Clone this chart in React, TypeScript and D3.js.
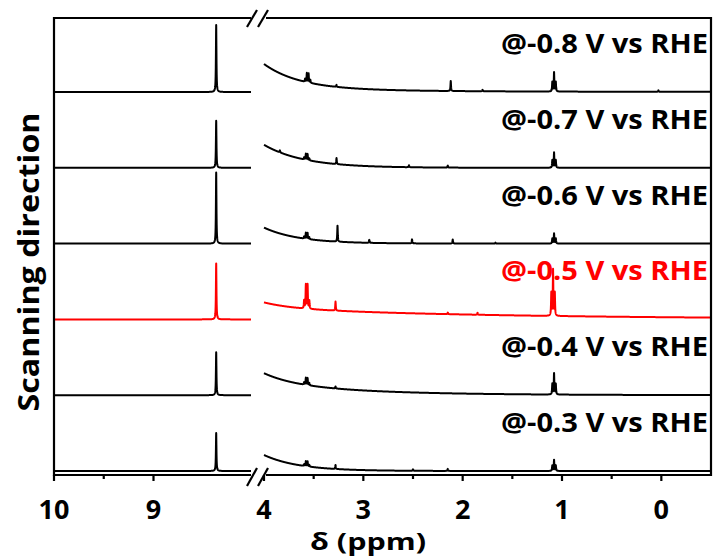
import React from "react";
import * as d3 from "d3";

// Applied potentials, top trace first
const potentials = ["-0.8", "-0.7", "-0.6", "-0.5", "-0.4", "-0.3"];
// Index of the highlighted trace
const highlightIndex = 3;

// Singlet near 8.37 ppm (left window): peak height per trace
const formatePpm = 8.37;
const formateHeights = [67, 47, 71, 56, 43, 38];

// Right window peaks per trace: [ppm, height, multiplicity]
type Peak = [number, number, "s" | "t" | "q"];
const peaks08: Peak[] = [[3.56, 9, "q"], [3.27, 2, "s"], [2.12, 10, "s"], [1.8, 1.5, "s"], [1.08, 19, "t"], [0.03, 1.5, "s"]];
const peaks07: Peak[] = [[3.84, 2, "s"], [3.57, 6, "q"], [3.27, 6, "s"], [2.54, 2, "s"], [2.15, 2, "s"], [1.08, 15, "t"]];
const peaks06: Peak[] = [[3.57, 6, "q"], [3.26, 16, "s"], [2.94, 3, "s"], [2.51, 4, "s"], [2.1, 4, "s"], [1.67, 1, "s"], [1.08, 10, "t"]];
const peaks05: Peak[] = [[3.57, 24, "q"], [3.28, 9, "s"], [2.15, 1.5, "s"], [1.85, 2, "s"], [1.09, 46, "t"]];
const peaks04: Peak[] = [[3.57, 7, "q"], [3.28, 2, "s"], [1.08, 21, "t"]];
const peaks03: Peak[] = [[3.57, 5, "q"], [3.28, 4, "s"], [2.5, 1.5, "s"], [2.15, 2, "s"], [1.08, 11, "t"]];
const rightPeaks = [peaks08, peaks07, peaks06, peaks05, peaks04, peaks03];

// Solvent-suppression baseline roll in the right window: [A1, tau1, A2, tau2]
const baselineRoll = [
  [25, 0.36, 3, 1.5],
  [23, 0.4, 0, 1],
  [16, 0.35, 0, 1],
  [6, 0.3, 11, 2.5],
  [10, 0.3, 12, 1.0],
  [16, 0.35, 0, 1],
];

const majorTicksLeft = [10, 9];
const minorTicksLeft = [9.5];
const majorTicksRight = [4, 3, 2, 1, 0];
const minorTicksRight = [3.5, 2.5, 1.5, 0.5];

const W = 713;
const H = 557;
const plotLeft = 54;
const plotRight = 711;
const plotTop = 18;
const plotBottom = 475;
const leftEnd = 253;
const rightStart = 264;

const xLeft = d3.scaleLinear().domain([10, 8.0]).range([plotLeft, leftEnd]);
const xRight = d3.scaleLinear().domain([4, -0.5]).range([rightStart, plotRight]);
const y = d3.scaleLinear().domain([0, 458]).range([476, 18]);

const HWHM = 0.003;
const J = 0.0175;
const patterns: Record<string, number[]> = {
  s: [1],
  t: [0.5, 1, 0.5],
  q: [0.33, 1, 1, 0.33],
};

function lorentz(x: number, c: number, h: number) {
  const d = (x - c) / HWHM;
  return h / (1 + d * d);
}

function multiplet(x: number, p: Peak) {
  const [c, h, m] = p;
  const w = patterns[m];
  const n = w.length;
  let s = 0;
  for (let k = 0; k < n; k++) {
    const pos = c + (k - (n - 1) / 2) * J;
    s += lorentz(x, pos, h * w[k]);
  }
  return s;
}

function samples(from: number, to: number, extra: number[]) {
  const pts: number[] = d3.range(from, to, -0.0015);
  pts.push(to);
  extra.forEach((e) => {
    if (e <= from && e >= to) pts.push(e);
  });
  return pts.sort((a, b) => b - a);
}

const stackStep = 75.8;
const stackBase = 5;

export default function App() {
  const line = d3.line<[number, number]>().x((d) => d[0]).y((d) => d[1]);

  const traces = potentials.map((pot, i) => {
    const offset = stackBase + (potentials.length - 1 - i) * stackStep;
    const leftPts = samples(10, 8.02, [formatePpm]).map(
      (p) => [xLeft(p), y(offset + lorentz(p, formatePpm, formateHeights[i]))] as [number, number]
    );
    const centers: number[] = [];
    rightPeaks[i].forEach((pk) => {
      const w = patterns[pk[2]];
      w.forEach((_, k) => centers.push(pk[0] + (k - (w.length - 1) / 2) * J));
    });
    const [a1, t1, a2, t2] = baselineRoll[i];
    const rightPts = samples(4, -0.5, centers).map((p) => {
      const base = a1 * Math.exp(-(4 - p) / t1) + a2 * Math.exp(-(4 - p) / t2);
      let v = base;
      rightPeaks[i].forEach((pk) => (v += multiplet(p, pk)));
      return [xRight(p), y(offset + v)] as [number, number];
    });
    return { pot, offset, left: line(leftPts), right: line(rightPts), color: i === highlightIndex ? "#ff0000" : "#000" };
  });

  const font = "'Open Sans', 'DejaVu Sans', sans-serif";

  return (
    <svg width={W} height={H} style={{ position: "absolute", left: 0, top: 0, background: "#fff" }}>
      <rect x={0} y={0} width={W} height={H} fill="#fff" />
      {traces.map((t) => (
        <g key={t.pot}>
          <path d={t.left || ""} fill="none" stroke={t.color} strokeWidth={2} strokeLinejoin="round" />
          <path d={t.right || ""} fill="none" stroke={t.color} strokeWidth={2} strokeLinejoin="round" />
        </g>
      ))}
      {traces.map((t) => (
        <text
          key={"l" + t.pot}
          x={708}
          y={y(t.offset) - 39}
          textAnchor="end"
          fontFamily={font}
          fontWeight="bold"
          fontSize={26}
          fill={t.color}
          textLength={207}
          lengthAdjust="spacingAndGlyphs"
        >
          {`@${t.pot} V vs RHE`}
        </text>
      ))}

      {/* frame with axis break */}
      <g stroke="#000" strokeWidth={2.2} fill="none">
        <line x1={plotLeft} y1={plotTop - 1.1} x2={plotLeft} y2={plotBottom + 1.1} />
        <line x1={plotRight} y1={plotTop - 1.1} x2={plotRight} y2={plotBottom + 1.1} />
        <line x1={plotLeft} y1={plotTop} x2={leftEnd - 2} y2={plotTop} />
        <line x1={rightStart + 2} y1={plotTop} x2={plotRight} y2={plotTop} />
        <line x1={plotLeft} y1={plotBottom} x2={leftEnd - 2} y2={plotBottom} />
        <line x1={rightStart + 2} y1={plotBottom} x2={plotRight} y2={plotBottom} />
        <line x1={247} y1={27} x2={257} y2={10} />
        <line x1={258} y1={27} x2={268} y2={10} />
        <line x1={247} y1={486} x2={257} y2={468} />
        <line x1={258} y1={486} x2={268} y2={468} />
        {majorTicksLeft.map((v) => (
          <line key={"ml" + v} x1={xLeft(v)} y1={plotBottom} x2={xLeft(v)} y2={plotBottom + 6} />
        ))}
        {minorTicksLeft.map((v) => (
          <line key={"nl" + v} x1={xLeft(v)} y1={plotBottom} x2={xLeft(v)} y2={plotBottom + 4} />
        ))}
        {majorTicksRight.map((v) => (
          <line key={"mr" + v} x1={xRight(v)} y1={plotBottom} x2={xRight(v)} y2={plotBottom + 6} />
        ))}
        {minorTicksRight.map((v) => (
          <line key={"nr" + v} x1={xRight(v)} y1={plotBottom} x2={xRight(v)} y2={plotBottom + 4} />
        ))}
      </g>

      <g fontFamily={font} fontWeight="bold" fontSize={27} textAnchor="middle" fill="#000">
        {majorTicksLeft.map((v) => (
          <text key={"tl" + v} x={xLeft(v)} y={519}>
            {v}
          </text>
        ))}
        {majorTicksRight.map((v) => (
          <text key={"tr" + v} x={xRight(v)} y={519}>
            {v}
          </text>
        ))}
      </g>
      <text
        x={368}
        y={550}
        textAnchor="middle"
        fontFamily={font}
        fontWeight="bold"
        fontSize={24}
        textLength={116}
        lengthAdjust="spacingAndGlyphs"
      >
        δ (ppm)
      </text>

      <text
        transform="translate(39,262) rotate(-90)"
        textAnchor="middle"
        fontFamily={font}
        fontWeight="bold"
        fontSize={29}
        textLength={299}
        lengthAdjust="spacingAndGlyphs"
      >
        Scanning direction
      </text>
    </svg>
  );
}
